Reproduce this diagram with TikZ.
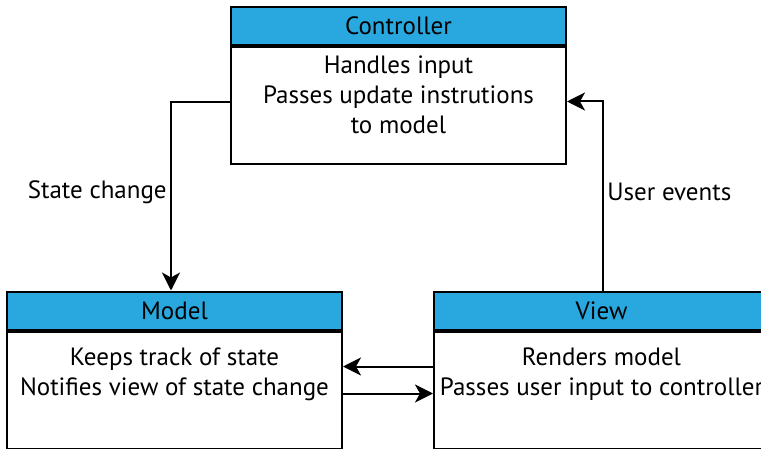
\documentclass[tikz,border=0pt]{standalone}
\usepackage{fontspec}
\setmainfont{PT Sans}
\usetikzlibrary{positioning,arrows.meta}

\definecolor{headblue}{RGB}{41,168,224}

\tikzset{
  head/.style={draw, line width=2pt, fill=headblue, minimum width=335pt,
    minimum height=38pt, inner sep=0pt, font=\fontsize{25}{30}\selectfont},
  body/.style={draw, line width=2pt, fill=white, minimum width=335pt,
    minimum height=117pt, inner sep=0pt},
  note/.style={align=center, inner sep=0pt, font=\fontsize{25}{30}\selectfont},
  flow/.style={line width=2pt, -{Stealth[length=18pt,width=18pt,inset=5pt]}},
  tag/.style={font=\fontsize{25}{30}\selectfont}
}

\begin{document}
\begin{tikzpicture}[x=1pt,y=1pt]
  \useasboundingbox (0,0) rectangle (761,448);

  % the three boxes
  \node[head] (ctrl) at (398.5,422) {Controller};
  \node[body, below=0pt of ctrl] (ctrlbody) {};
  \node[note, below=10pt of ctrl.south] (ctrltext)
    {Handles input\\Passes update instrutions\\to model};

  \node[head] (model) at (174.5,137.5) {Model};
  \node[body, below=0pt of model] (modelbody) {};
  \node[note, below=17pt of model.south] (modeltext)
    {Keeps track of state\\Notifies view of state change};

  \node[head] (view) at (601.5,137.5) {View};
  \node[body, below=0pt of view] (viewbody) {};
  \node[note, below=17pt of view.south] (viewtext)
    {Renders model\\Passes user input to controller};

  % arrows between them
  \begin{scope}[tag]
    \draw[flow] ([yshift=3.5pt]ctrlbody.west) -| node[pos=0.74, left] {State change}
      ([xshift=-3.5pt]model.north);
    \draw[flow] ([xshift=1.5pt]view.north) |- node[pos=0.26, right] {User events}
      ([yshift=4pt]ctrlbody.east);
    \draw[flow] ([yshift=23.5pt]viewbody.west) -- ([yshift=23.5pt]modelbody.east);
    \draw[flow] ([yshift=-3.5pt]modelbody.east) -- ([yshift=-3.5pt]viewbody.west);
  \end{scope}
\end{tikzpicture}
\end{document}
